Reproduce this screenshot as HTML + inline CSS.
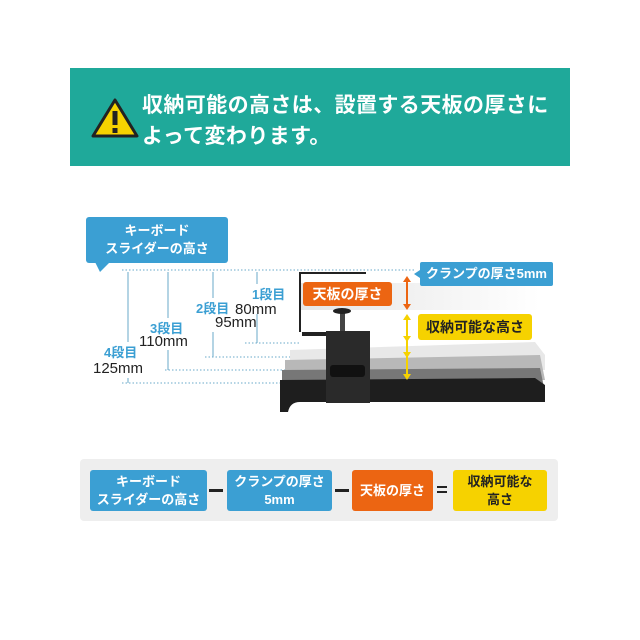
<!DOCTYPE html>
<html><head><meta charset="utf-8"><style>
body{margin:0;width:640px;height:640px;background:#fff;position:relative;overflow:hidden;font-family:"Liberation Sans","Noto Sans CJK JP",sans-serif;}
.a{position:absolute;}
.hdr{left:70px;top:68px;width:500px;height:98px;background:#1fa99a;}
.ht{left:142px;top:90px;color:#fff;font-size:21px;font-weight:bold;line-height:31px;letter-spacing:0.4px;white-space:nowrap;}
.bx{position:absolute;color:#fff;font-weight:bold;text-align:center;display:flex;align-items:center;justify-content:center;line-height:18px;border-radius:3px;}
.blue{background:#3b9fd3;}
.or{background:#ec6512;}
.ye{background:#f6d200;color:#222;}
.lb{position:absolute;color:#3b9fd3;font-size:13px;font-weight:bold;}
.mm{position:absolute;color:#222;font-size:15px;}
</style></head><body>
<div class="a hdr"></div>
<svg class="a" style="left:90px;top:97px" width="50" height="42"><polygon points="25,3 47,39 3,39" fill="#f6d200" stroke="#222" stroke-width="3" stroke-linejoin="round"/><rect x="22.5" y="14" width="5" height="14" fill="#222"/><rect x="22.5" y="31" width="5" height="5" fill="#222"/></svg>
<div class="a ht">収納可能の高さは、設置する天板の厚さに<br>よって変わります。</div>

<div class="bx blue" style="left:86px;top:217px;width:142px;height:46px;font-size:13px;">キーボード<br>スライダーの高さ</div>
<svg class="a" style="left:0;top:0" width="640" height="640">
<polygon points="95,262 110,262 100,272" fill="#3b9fd3"/>
<g stroke="#6aa9c9" stroke-width="1" stroke-dasharray="1.5,2">
<line x1="122" y1="270" x2="415" y2="270"/>
<line x1="245" y1="343" x2="300" y2="343"/>
<line x1="205" y1="357" x2="300" y2="357"/>
<line x1="165" y1="370" x2="300" y2="370"/>
<line x1="122" y1="383" x2="300" y2="383"/>
</g>
<g stroke="#6aa9c9" stroke-width="1">
<line x1="257" y1="272" x2="257" y2="284"/><line x1="257" y1="314" x2="257" y2="343"/>
<line x1="213" y1="272" x2="213" y2="298"/><line x1="213" y1="332" x2="213" y2="357"/>
<line x1="168" y1="272" x2="168" y2="318"/><line x1="168" y1="350" x2="168" y2="370"/>
<line x1="128" y1="272" x2="128" y2="342"/><line x1="128" y1="378" x2="128" y2="383"/>
</g>
<defs><linearGradient id="g1" x1="0" x2="1"><stop offset="0" stop-color="#e5e5e5"/><stop offset="1" stop-color="#fff"/></linearGradient></defs>
<rect x="300" y="283" width="240" height="27" fill="url(#g1)"/>
<path d="M290,350 L535,342 L545,355 L545,370 L290,370Z" fill="#e8e8e8"/>
<path d="M285,360 L540,355 L545,380 L285,385Z" fill="#b8b8b8"/>
<path d="M282,370 L540,368 L545,392 L282,392Z" fill="#777"/>
<path d="M280,380 L535,378 L545,385 L545,402 L300,402 Q290,402 288,412 L280,412 Z" fill="#1e1e1e"/>
<path d="M300,332 L300,273 L366,273" fill="none" stroke="#222" stroke-width="2"/>
<rect x="302" y="332" width="68" height="4" fill="#222"/>
<rect x="340" y="312" width="5" height="40" fill="#444"/>
<ellipse cx="342" cy="311" rx="9" ry="3" fill="#222"/>
<rect x="326" y="331" width="44" height="72" fill="#2a2a2a"/>
<rect x="330" y="365" width="35" height="12" rx="3" fill="#111"/>
<line x1="407" y1="278" x2="407" y2="308" stroke="#ec6512" stroke-width="2"/>
<polygon points="403,282 407,276 411,282" fill="#ec6512"/><polygon points="403,304 407,310 411,304" fill="#ec6512"/>
<line x1="407" y1="316" x2="407" y2="378" stroke="#f6d200" stroke-width="2"/>
<g fill="#f6d200"><polygon points="403,320 407,314 411,320"/><polygon points="403,336 407,342 411,336"/><polygon points="403,352 407,358 411,352"/><polygon points="403,374 407,380 411,374"/></g>
<polygon points="414,274 420,270 420,278" fill="#3b9fd3"/>
</svg>
<div class="lb" style="left:252px;top:284px;">1段目</div>
<div class="mm" style="left:235px;top:301px;">80mm</div>
<div class="lb" style="left:196px;top:298px;">2段目</div>
<div class="mm" style="left:215px;top:314px;">95mm</div>
<div class="lb" style="left:150px;top:318px;">3段目</div>
<div class="mm" style="left:139px;top:333px;">110mm</div>
<div class="lb" style="left:104px;top:342px;">4段目</div>
<div class="mm" style="left:93px;top:360px;">125mm</div>
<div class="bx or" style="left:303px;top:282px;width:89px;height:24px;font-size:14px;">天板の厚さ</div>
<div class="bx blue" style="left:420px;top:262px;width:133px;height:24px;font-size:13px;border-radius:2px;">クランプの厚さ5mm</div>
<div class="bx ye" style="left:418px;top:314px;width:114px;height:26px;font-size:14px;">収納可能な高さ</div>

<div class="a" style="left:80px;top:459px;width:478px;height:62px;background:#eeeeee;border-radius:4px;"></div>
<div class="bx blue" style="left:90px;top:470px;width:117px;height:41px;font-size:13px;">キーボード<br>スライダーの高さ</div>
<div class="a" style="left:209px;top:489px;width:14px;height:3px;background:#222;"></div>
<div class="bx blue" style="left:227px;top:470px;width:105px;height:41px;font-size:13px;">クランプの厚さ<br>5mm</div>
<div class="a" style="left:335px;top:489px;width:14px;height:3px;background:#222;"></div>
<div class="bx or" style="left:352px;top:470px;width:81px;height:41px;font-size:13px;">天板の厚さ</div>
<div class="a" style="left:437px;top:486px;width:10px;height:2px;background:#222;"></div>
<div class="a" style="left:437px;top:491px;width:10px;height:2px;background:#222;"></div>
<div class="bx ye" style="left:453px;top:470px;width:94px;height:41px;font-size:13px;">収納可能な<br>高さ</div>
</body></html>
